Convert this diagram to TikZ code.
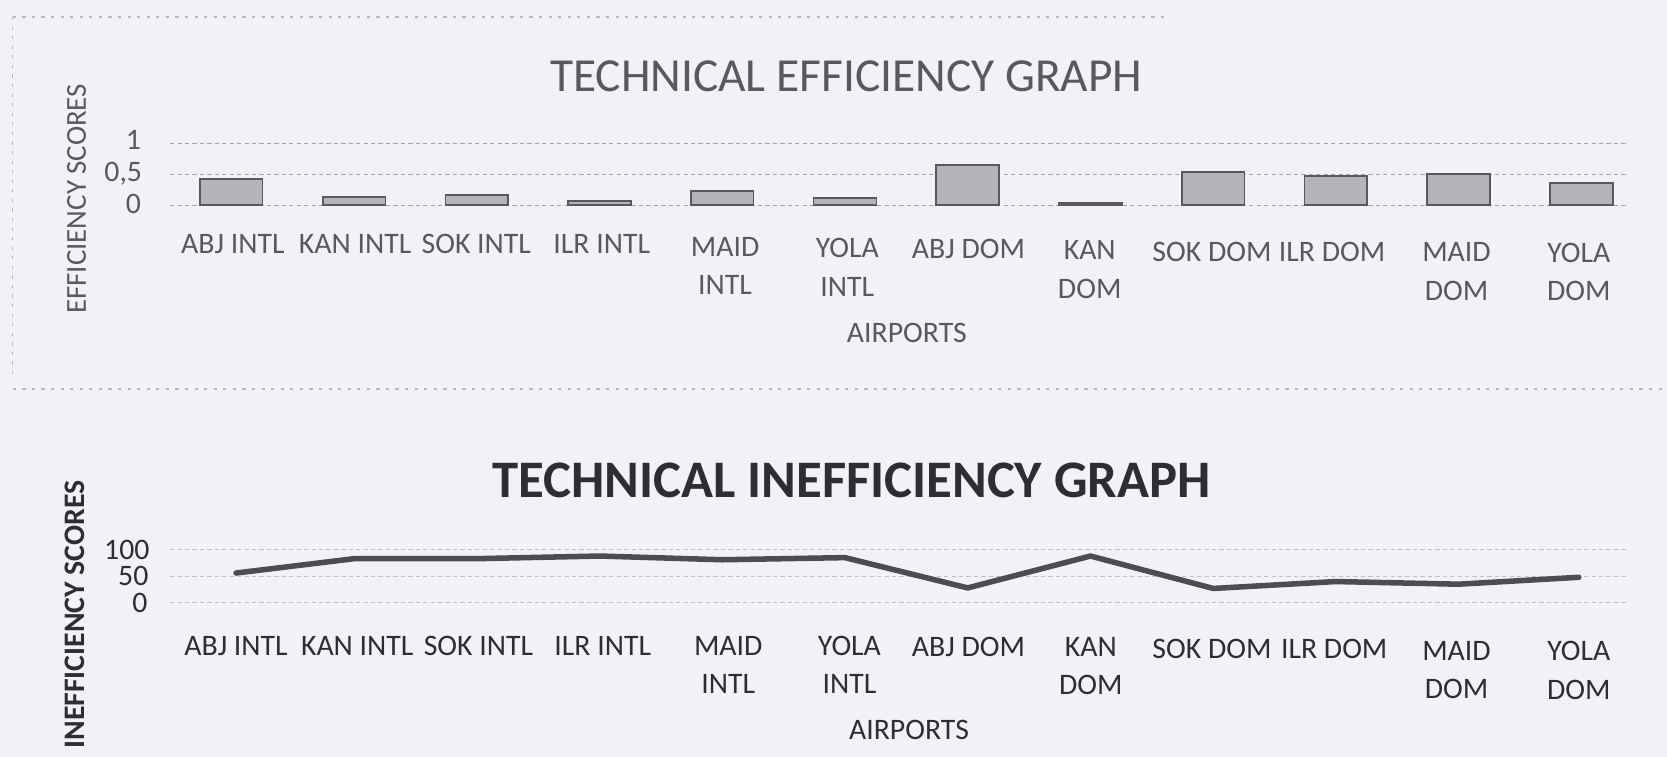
\documentclass[tikz,border=0pt]{standalone}
\usepackage{fontspec}
\setmainfont{Carlito}
\usetikzlibrary{positioning}
\definecolor{paper}{RGB}{242,242,246}
\definecolor{ink}{RGB}{88,88,94}
\definecolor{darkink}{RGB}{45,45,52}
\definecolor{barfill}{RGB}{180,180,186}
\definecolor{gridgray}{RGB}{165,165,172}

\begin{document}
\begin{tikzpicture}[x=0.5pt,y=-0.5pt]
      \tikzstyle{bar}=[draw=ink,fill=barfill,line width=0.8pt]
      \tikzstyle{lbl}=[inner sep=0pt,anchor=north,align=center,font=\fontsize{14}{18}\selectfont]
      \tikzstyle{ticklbl}=[inner sep=0pt,anchor=east,text depth=0pt,font=\fontsize{14}{17}\selectfont]
      \tikzstyle{gridline}=[gridgray,line width=0.5pt,dash pattern=on 2pt off 1.5pt]
      \tikzstyle{frame}=[gridgray!80,line width=0.6pt,dash pattern=on 1.5pt off 3pt]
      \tikzstyle{trend}=[darkink!85,line width=2.6pt,line join=round,line cap=round]
      \fill[paper] (0,0) rectangle (1568,712);
      \useasboundingbox (0,0) rectangle (1568,712);

      % frame of the upper chart
      \draw[frame] (12,16) -- (1100,16);
      \draw[frame] (12,16) -- (12,357);
      \draw[frame] (12,366) -- (1568,366);

      % upper chart: efficiency bars
      \node[text=ink,font=\fontsize{22.3}{26}\selectfont] (etitle) at (796,72) {TECHNICAL EFFICIENCY GRAPH};
      \node[rotate=90,text=ink,font=\fontsize{13.6}{16}\selectfont] (eaxis) at (72,187) {EFFICIENCY SCORES};
      \node[ticklbl,text=ink] (e1y) at (133,132) {1};
      \node[ticklbl,text=ink] (e05y) at (134,162) {0,5};
      \node[ticklbl,text=ink] (e0y) at (133,192) {0};
      \draw[gridline] (160,135) -- (1530,135);
      \draw[gridline] (160,164) -- (1530,164);
      \draw[gridline] (160,193) -- (1530,193);
      \foreach \x/\v in {217.5/0.42,333/0.13,448.4/0.16,563.9/0.07,679.3/0.23,794.8/0.12,
                         910.2/0.65,1025.7/0.03,1141.1/0.54,1256.6/0.47,1372/0.51,1487.5/0.36}
        \draw[bar] (\x-29.5,193) rectangle (\x+29.5,193-58*\v);

      \node[lbl,text=ink] (eabji) at (219,220) {ABJ INTL};
      \node[lbl,text=ink] (ekani) at (334,220) {KAN INTL};
      \node[lbl,text=ink] (esoki) at (448,220) {SOK INTL};
      \node[lbl,text=ink] (eilri) at (566,220) {ILR INTL};
      \node[lbl,text=ink] (emaidi) at (682,223) {MAID\\INTL};
      \node[lbl,text=ink] (eyolai) at (797,224) {YOLA\\INTL};
      \node[lbl,text=ink] (eabjd) at (911,225) {ABJ DOM};
      \node[lbl,text=ink] (ekand) at (1025,226) {KAN\\DOM};
      \node[lbl,text=ink] (esokd) at (1140,227) {SOK DOM};
      \node[lbl,text=ink] (eilrd) at (1253,227) {ILR DOM};
      \node[lbl,text=ink] (emaidd) at (1370,228) {MAID\\DOM};
      \node[lbl,text=ink] (eyolad) at (1485,228) {YOLA\\DOM};
      \node[text=ink,inner sep=0pt,font=\fontsize{14}{17}\selectfont] (exaxis) at (853,313) {AIRPORTS};

      % lower chart: inefficiency line
      \node[text=darkink,font=\bfseries\fontsize{24.8}{29}\selectfont] (ititle) at (801,452) {TECHNICAL INEFFICIENCY GRAPH};
      \node[rotate=90,text=darkink,font=\bfseries\fontsize{14}{17}\selectfont] (iaxis) at (70,578) {INEFFICIENCY SCORES};
      \node[ticklbl,text=darkink] (i100y) at (141,517) {100};
      \node[ticklbl,text=darkink] (i50y) at (140,542) {50};
      \node[ticklbl,text=darkink] (i0y) at (139,567) {0};
      \draw[gridline,gridgray!70] (160,517) -- (1530,517);
      \draw[gridline,gridgray!70] (160,542) -- (1530,542);
      \draw[gridline,gridgray!70] (160,567) -- (1530,567);

      \coordinate (p1) at (222,539);
      \coordinate (p2) at (333,525.5);
      \coordinate (p3) at (448.4,525.5);
      \coordinate (p4) at (563.9,523);
      \coordinate (p5) at (679.3,526.5);
      \coordinate (p6) at (794.8,524.5);
      \coordinate (p7) at (910.2,553);
      \coordinate (p8) at (1025.7,523);
      \coordinate (p9) at (1141.1,553.5);
      \coordinate (p10) at (1256.6,547);
      \coordinate (p11) at (1372,549.5);
      \coordinate (p12) at (1485,543);
      \draw[trend] (p1) -- (p2) -- (p3) -- (p4) -- (p5) -- (p6) -- (p7) -- (p8) -- (p9) -- (p10) -- (p11) -- (p12);

      \node[lbl,text=darkink] (iabji) at (222,598) {ABJ INTL};
      \node[lbl,text=darkink] (ikani) at (336,598) {KAN INTL};
      \node[lbl,text=darkink] (isoki) at (450,598) {SOK INTL};
      \node[lbl,text=darkink] (iilri) at (567,598) {ILR INTL};
      \node[lbl,text=darkink] (imaidi) at (685,598) {MAID\\INTL};
      \node[lbl,text=darkink] (iyolai) at (799,598) {YOLA\\INTL};
      \node[lbl,text=darkink] (iabjd) at (911,599) {ABJ DOM};
      \node[lbl,text=darkink] (ikand) at (1026,599) {KAN\\DOM};
      \node[lbl,text=darkink] (isokd) at (1140,601) {SOK DOM};
      \node[lbl,text=darkink] (iilrd) at (1255,601) {ILR DOM};
      \node[lbl,text=darkink] (imaidd) at (1370,603) {MAID\\DOM};
      \node[lbl,text=darkink] (iyolad) at (1485,603) {YOLA\\DOM};
      \node[text=darkink,inner sep=0pt,font=\fontsize{14}{17}\selectfont] (ixaxis) at (855,687) {AIRPORTS};
    \end{tikzpicture}
\end{document}
